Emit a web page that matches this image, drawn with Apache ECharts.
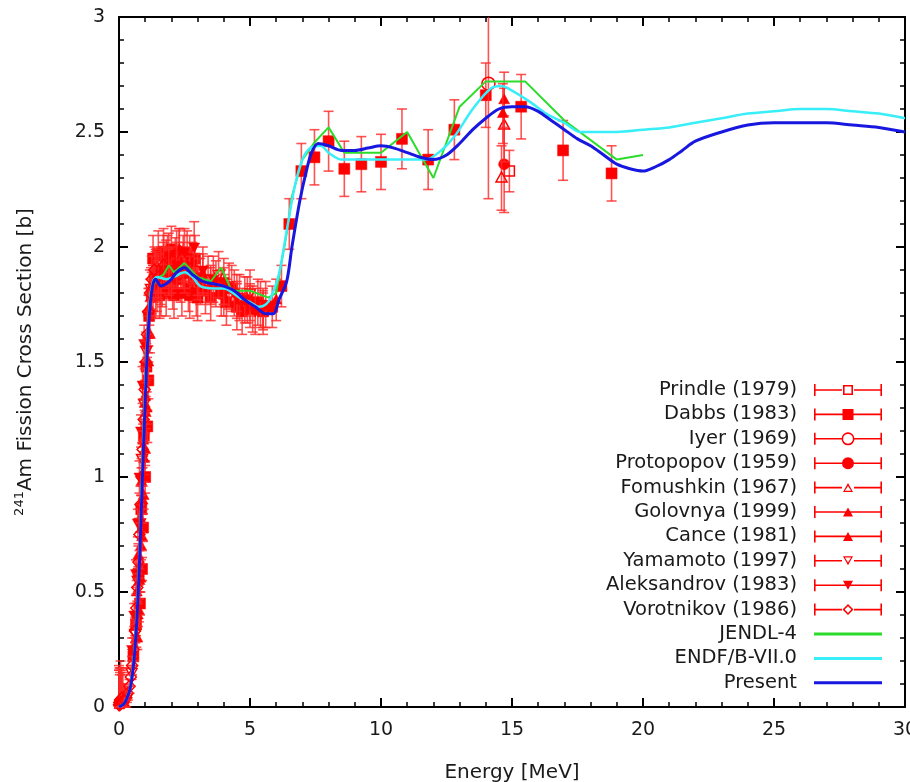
<!DOCTYPE html>
<html>
<head>
<meta charset="utf-8">
<script src="https://cdn.jsdelivr.net/npm/echarts@6/dist/echarts.min.js"></script>
<style>
  html, body { margin: 0; padding: 0; background: #fff; }
  #main { width: 910px; height: 782px; }
</style>
</head>
<body>
<div id="main"></div>
<script>
// 数据: [能量 MeV, 截面 b, 误差 b]
var prindle = [[14.9, 2.33, 0.09]];
var dabbs = [
  [0.55,0.22,0.04],[0.65,0.36,0.05],[0.75,0.58,0.05],[0.80,0.45,0.05],[0.85,0.86,0.06],
  [0.88,0.60,0.05],[0.92,0.78,0.06],[0.95,1.18,0.07],[1.00,1.00,0.07],[1.05,1.48,0.08],
  [1.08,1.22,0.07],[1.12,1.42,0.08],[1.15,1.70,0.09],[1.25,1.80,0.09],[1.30,1.95,0.10],
  [1.35,1.86,0.10],[1.40,1.79,0.10],[1.45,1.82,0.10],[1.50,1.97,0.10],[1.55,1.79,0.10],
  [1.60,1.80,0.10],[1.65,1.84,0.10],[1.70,1.98,0.10],[1.75,1.90,0.10],[1.80,1.80,0.10],
  [1.85,1.95,0.10],[1.95,1.88,0.10],[2.00,1.99,0.10],[2.05,1.83,0.10],[2.10,1.79,0.10],
  [2.15,1.94,0.10],[2.25,1.90,0.10],[2.30,1.98,0.10],[2.35,1.86,0.10],[2.40,1.80,0.10],
  [2.45,1.95,0.10],[2.55,1.90,0.10],[2.60,1.97,0.10],[2.65,1.82,0.10],[2.70,1.79,0.10],
  [2.75,1.89,0.10],[2.85,1.86,0.10],[2.90,1.95,0.10],[2.95,1.80,0.10],[3.00,1.78,0.10],
  [3.10,1.85,0.10],[3.30,1.81,0.10],[3.50,1.78,0.10],[3.70,1.84,0.10],[3.90,1.80,0.10],
  [4.10,1.76,0.10],[4.30,1.82,0.10],[4.50,1.74,0.10],[4.70,1.72,0.10],[4.90,1.77,0.10],
  [5.10,1.73,0.10],[5.30,1.76,0.10],[5.50,1.72,0.10],[5.85,1.74,0.09],[6.20,1.83,0.09],
  [6.50,2.10,0.11],[6.96,2.33,0.12],[7.46,2.39,0.12],[8.00,2.46,0.13],[8.60,2.34,0.12],
  [9.25,2.36,0.12],[10.0,2.37,0.12],[10.8,2.47,0.13],[11.8,2.38,0.13],[12.8,2.51,0.13],
  [14.0,2.66,0.14],[15.35,2.61,0.14],[16.95,2.42,0.13],[18.8,2.32,0.12]
];
var iyer = [[14.1, 2.71, 0.5]];
var protopopov = [[14.7, 2.36, 0.21]];
var fomushkin = [[14.6, 2.30, 0.14], [14.7, 2.53, 0.16]];
var golovnya = [
  [0.00,0.02,0.16],[0.02,0.01,0.16],[0.05,0.02,0.15],[0.10,0.02,0.14],[0.15,0.03,0.12],
  [0.20,0.02,0.08],[0.62,0.35,0.04],[0.66,0.30,0.04],[0.68,0.50,0.05],[0.72,0.40,0.05],
  [0.74,0.66,0.05],[0.78,0.55,0.05],[0.80,0.82,0.06],[0.84,0.70,0.06],[0.86,0.98,0.06],
  [0.90,0.90,0.06],[0.92,1.16,0.07],[0.96,1.08,0.07],[0.98,1.32,0.07],[1.02,1.28,0.07],
  [1.04,1.50,0.08],[1.10,1.62,0.08],[1.16,1.74,0.08],[1.30,1.84,0.08],[1.60,1.88,0.08],
  [2.0,1.91,0.08],[2.5,1.90,0.08],[3.0,1.87,0.08],[3.5,1.84,0.08],[4.0,1.83,0.08],
  [4.5,1.80,0.08],[5.0,1.76,0.08],[5.5,1.73,0.08],[14.7,2.64,0.12]
];
var cance = [
  [0.70,0.30,0.05],[0.76,0.42,0.05],[0.82,0.56,0.06],[0.88,0.74,0.06],[0.94,0.92,0.06],
  [1.0,1.12,0.07],[1.06,1.30,0.07],[1.12,1.50,0.07],[1.18,1.62,0.08],
  [1.0,1.35,0.07],[1.2,1.78,0.08],[1.4,1.90,0.09],[1.5,1.86,0.08],[1.7,1.96,0.09],
  [2.0,1.86,0.09],[2.3,1.99,0.09],[2.5,1.88,0.08],[2.8,1.93,0.09],[3.2,1.88,0.09],
  [3.5,1.83,0.08],[4.0,1.79,0.09],[4.5,1.77,0.08],[5.0,1.74,0.09],[5.5,1.72,0.08],
  [6.0,1.77,0.09],[14.65,2.58,0.13]
];
var yamamoto = [
  [0.30,0.04,0.02],[0.48,0.15,0.03],[0.62,0.32,0.04],[0.72,0.55,0.05],[0.80,0.80,0.06],
  [0.88,1.08,0.07],[0.96,1.32,0.08],[1.04,1.55,0.08],[1.12,1.70,0.09],[1.22,1.82,0.09],
  [1.40,1.88,0.10],[1.60,1.85,0.10],[1.80,1.93,0.10],[2.00,1.90,0.10],[2.20,1.97,0.10],
  [2.45,1.92,0.10],[2.70,1.95,0.10],[3.00,1.87,0.10],[3.40,1.86,0.10],[3.80,1.88,0.10],
  [4.20,1.83,0.10],[4.60,1.78,0.10],[5.00,1.80,0.10],[5.40,1.75,0.10]
];
var aleksandrov = [
  [0.50,0.25,0.05],[0.58,0.40,0.05],[0.65,0.58,0.06],[0.72,0.80,0.06],[0.78,1.00,0.07],
  [0.84,1.20,0.07],[0.90,1.40,0.08],[0.96,1.58,0.08],
  [1.3,1.82,0.10],[1.6,1.90,0.10],[1.9,1.96,0.10],[2.2,1.92,0.10],[2.5,1.98,0.10],
  [2.87,2.00,0.11],[3.2,1.90,0.10],[3.6,1.86,0.10],[4.0,1.85,0.10],[4.4,1.80,0.10],
  [4.8,1.77,0.10],[5.2,1.72,0.10],[5.6,1.75,0.10]
];
var vorotnikov = [
  [0.00,0.01,0.15],[0.01,0.02,0.14],[0.03,0.01,0.13],[0.04,0.03,0.12],[0.06,0.03,0.17],
  [0.08,0.02,0.15],[0.12,0.04,0.10],[0.16,0.02,0.08],[0.22,0.03,0.05],[0.28,0.04,0.04],
  [0.34,0.06,0.03],[0.40,0.09,0.03],[0.45,0.13,0.04],[0.50,0.18,0.04],[0.56,0.25,0.05],
  [0.61,0.33,0.05],[0.66,0.43,0.06],[0.70,0.52,0.06],[0.74,0.63,0.07],[0.78,0.75,0.07],
  [0.82,0.88,0.08],[0.86,1.00,0.08],[0.90,1.12,0.08],[0.94,1.25,0.09],[0.98,1.38,0.09],
  [1.02,1.50,0.09],[1.07,1.62,0.10],[1.12,1.72,0.10],[1.18,1.80,0.10],[1.25,1.86,0.10],
  [1.35,1.90,0.10],[1.50,1.87,0.10],[1.70,1.92,0.10],[1.90,1.89,0.10]
];

// 评价曲线: [能量 MeV, 截面 b]
var jendl4 = [
  [0,0],[0.2,0.015],[0.4,0.07],[0.5,0.14],[0.6,0.26],[0.7,0.45],[0.8,0.72],[0.9,1.08],
  [1.0,1.40],[1.1,1.65],[1.2,1.80],[1.4,1.86],[1.7,1.88],[1.9,1.92],[2.1,1.89],[2.5,1.93],
  [3.0,1.87],[3.5,1.85],[3.9,1.91],[4.3,1.81],[5.0,1.81],[5.7,1.78],[6.0,1.80],[6.2,1.93],
  [6.4,2.06],[6.6,2.22],[7.0,2.38],[7.5,2.46],[8.0,2.52],[8.6,2.41],[10.0,2.41],[11.0,2.50],
  [12.0,2.30],[13.0,2.61],[14.0,2.72],[15.5,2.72],[17.0,2.55],[19.0,2.38],[20.0,2.40]
];
var endfb7 = [
  [0,0],[0.2,0.015],[0.4,0.07],[0.5,0.14],[0.6,0.25],[0.7,0.44],[0.8,0.71],[0.9,1.06],
  [1.0,1.38],[1.1,1.63],[1.2,1.78],[1.3,1.85],[1.45,1.87],[1.8,1.86],[2.1,1.87],[2.5,1.89],
  [2.8,1.87],[3.1,1.83],[3.6,1.82],[4.0,1.82],[4.6,1.78],[5.0,1.76],[5.35,1.74],[5.6,1.75],
  [5.8,1.78],[6.1,1.88],[6.4,2.07],[6.7,2.26],[7.0,2.38],[7.3,2.43],[7.7,2.44],[8.0,2.41],
  [8.5,2.38],[9.5,2.38],[10.5,2.38],[11.7,2.38],[12.3,2.42],[12.8,2.48],[13.5,2.60],
  [14.2,2.69],[14.6,2.70],[15.0,2.68],[15.7,2.63],[16.3,2.58],[17.0,2.54],[17.6,2.50],
  [18.0,2.50],[19.0,2.50],[20.0,2.51],[21.0,2.52],[22.0,2.54],[23.0,2.56],[24.0,2.58],
  [25.0,2.59],[26.0,2.60],[27.0,2.60],[28.0,2.59],[29.0,2.58],[30.0,2.56]
];
var present = [
  [0,0],[0.2,0.015],[0.4,0.07],[0.5,0.13],[0.6,0.24],[0.7,0.42],[0.8,0.68],[0.9,1.02],
  [1.0,1.33],[1.1,1.60],[1.2,1.76],[1.3,1.84],[1.4,1.86],[1.6,1.83],[1.8,1.84],[2.0,1.86],
  [2.2,1.89],[2.5,1.91],[2.8,1.88],[3.2,1.85],[3.6,1.84],[4.0,1.83],[4.4,1.81],[4.8,1.77],
  [5.2,1.74],[5.6,1.71],[5.9,1.71],[6.1,1.77],[6.4,1.85],[6.6,2.00],[6.9,2.20],[7.15,2.33],
  [7.35,2.41],[7.6,2.45],[8.0,2.44],[8.5,2.42],[9.0,2.42],[9.5,2.43],[10.0,2.44],[10.5,2.43],
  [11.0,2.41],[11.5,2.39],[12.0,2.38],[12.5,2.40],[13.0,2.45],[13.5,2.51],[14.0,2.56],
  [14.5,2.60],[15.0,2.61],[15.5,2.61],[16.0,2.59],[16.5,2.55],[17.0,2.51],[17.5,2.47],
  [18.0,2.44],[18.5,2.40],[19.0,2.36],[19.5,2.34],[20.0,2.33],[20.5,2.35],[21.0,2.38],
  [21.5,2.42],[22.0,2.46],[23.0,2.50],[24.0,2.53],[25.0,2.54],[26.0,2.54],[27.0,2.54],
  [28.0,2.53],[29.0,2.52],[30.0,2.50]
];

var xTicks = [0, 30, 5];   // min, max, interval
var yTicks = [0, 3, 0.5];

var RED = '#ff0000';
var BAR = 'rgba(255,40,40,0.8)';
var FONT = 'DejaVu Sans';
var TXT = '#1a1a1a';

// 图例图标 (误差棒 + 标记)
var LINE = 'M0,5.2 H68 V6.8 H0 Z ';
var LINE_BROKEN = 'M0,5.2 H28 V6.8 H0 Z M40,5.2 H68 V6.8 H40 Z ';
var CAPS = 'M0,0 H1.6 V12 H0 Z M66.4,0 H68 V12 H66.4 Z ';
var icons = {
  squareOpen: 'path://' + CAPS + LINE_BROKEN + 'M29,1 H39 V11 H29 Z M30.6,2.6 V9.4 H37.4 V2.6 Z',
  square: 'path://' + CAPS + LINE + 'M28.5,0.5 H39.5 V11.5 H28.5 Z',
  circleOpen: 'path://' + CAPS + LINE_BROKEN + 'M27.5,6 A6.5,6.5 0 1,1 40.5,6 A6.5,6.5 0 1,1 27.5,6 Z M29.1,6 A4.9,4.9 0 1,0 38.9,6 A4.9,4.9 0 1,0 29.1,6 Z',
  circle: 'path://' + CAPS + LINE + 'M28,6 A6,6 0 1,1 40,6 A6,6 0 1,1 28,6 Z',
  triOpen: 'path://' + CAPS + LINE_BROKEN + 'M34,1.5 L39,10.5 L29,10.5 Z M34,4.4 L30.9,9.2 L37.1,9.2 Z',
  tri: 'path://' + CAPS + LINE + 'M34,1.5 L39,10.5 L29,10.5 Z',
  triDownOpen: 'path://' + CAPS + LINE_BROKEN + 'M29,1.5 L39,1.5 L34,10.5 Z M30.9,2.8 L34,7.8 L37.1,2.8 Z',
  triDown: 'path://' + CAPS + LINE + 'M29,1.5 L39,1.5 L34,10.5 Z',
  diamondOpen: 'path://' + CAPS + LINE_BROKEN + 'M34,0.5 L39.5,6 L34,11.5 L28.5,6 Z M34,2.7 L30.7,6 L34,9.3 L37.3,6 Z',
  line: 'path://M0,0 H68 V3 H0 Z'
};

function markerEl(kind, cx, cy) {
  var fillS = { fill: RED, stroke: RED, lineWidth: 0.5 };
  var openS = { fill: 'none', stroke: RED, lineWidth: 1.5 };
  switch (kind) {
    case 'square': return { type: 'rect', shape: { x: cx - 5.5, y: cy - 5.5, width: 11, height: 11 }, style: fillS };
    case 'squareOpen': return { type: 'rect', shape: { x: cx - 5, y: cy - 5, width: 10, height: 10 }, style: openS };
    case 'circle': return { type: 'circle', shape: { cx: cx, cy: cy, r: 5.5 }, style: fillS };
    case 'circleOpen': return { type: 'circle', shape: { cx: cx, cy: cy, r: 6.5 }, style: openS };
    case 'tri': return { type: 'polygon', shape: { points: [[cx, cy - 6], [cx + 5.5, cy + 4], [cx - 5.5, cy + 4]] }, style: fillS };
    case 'triOpen': return { type: 'polygon', shape: { points: [[cx, cy - 6], [cx + 5.5, cy + 4], [cx - 5.5, cy + 4]] }, style: openS };
    case 'triDown': return { type: 'polygon', shape: { points: [[cx, cy + 6], [cx + 5.5, cy - 4], [cx - 5.5, cy - 4]] }, style: fillS };
    case 'triDownOpen': return { type: 'polygon', shape: { points: [[cx, cy + 6], [cx + 5.5, cy - 4], [cx - 5.5, cy - 4]] }, style: openS };
    default: return { type: 'polygon', shape: { points: [[cx, cy - 6], [cx + 5.5, cy], [cx, cy + 6], [cx - 5.5, cy]] }, style: openS };
  }
}

function errorBars(kind) {
  return function (params, api) {
    var x = api.value(0), y = api.value(1), e = api.value(2);
    var c = api.coord([x, y]);
    var hi = api.coord([x, Math.min(y + e, yTicks[1])]);
    var lo = api.coord([x, Math.max(y - e, yTicks[0])]);
    var cap = 5;
    var bs = { stroke: BAR, lineWidth: 1.6 };
    var kids = [
      { type: 'line', shape: { x1: c[0], y1: hi[1], x2: c[0], y2: lo[1] }, style: bs },
      { type: 'line', shape: { x1: c[0] - cap, y1: lo[1], x2: c[0] + cap, y2: lo[1] }, style: bs },
      markerEl(kind, c[0], c[1])
    ];
    if (y + e <= yTicks[1]) {
      kids.push({ type: 'line', shape: { x1: c[0] - cap, y1: hi[1], x2: c[0] + cap, y2: hi[1] }, style: bs });
    }
    return { type: 'group', children: kids };
  };
}

var expSets = [
  { name: 'Prindle (1979)', data: prindle, kind: 'squareOpen' },
  { name: 'Dabbs (1983)', data: dabbs, kind: 'square' },
  { name: 'Iyer (1969)', data: iyer, kind: 'circleOpen' },
  { name: 'Protopopov (1959)', data: protopopov, kind: 'circle' },
  { name: 'Fomushkin (1967)', data: fomushkin, kind: 'triOpen' },
  { name: 'Golovnya (1999)', data: golovnya, kind: 'tri' },
  { name: 'Cance (1981)', data: cance, kind: 'tri' },
  { name: 'Yamamoto (1997)', data: yamamoto, kind: 'triDownOpen' },
  { name: 'Aleksandrov (1983)', data: aleksandrov, kind: 'triDown' },
  { name: 'Vorotnikov (1986)', data: vorotnikov, kind: 'diamondOpen' }
];

var series = [];
var legendData = [];
expSets.forEach(function (s) {
  series.push({
    name: s.name,
    type: 'custom',
    renderItem: errorBars(s.kind),
    data: s.data,
    encode: { x: 0, y: 1 },
    itemStyle: { color: RED },
    z: 2,
    silent: true
  });
  legendData.push({ name: s.name, icon: icons[s.kind] });
});

var curves = [
  { name: 'JENDL-4', data: jendl4, color: '#2bdc2b', width: 2, smooth: false },
  { name: 'ENDF/B-VII.0', data: endfb7, color: '#38eef8', width: 2.5, smooth: 0.3 },
  { name: 'Present', data: present, color: '#1717e0', width: 3, smooth: 0.3 }
];
curves.forEach(function (c, i) {
  series.push({
    name: c.name,
    type: 'line',
    data: c.data,
    showSymbol: false,
    symbol: 'none',
    smooth: c.smooth,
    lineStyle: { color: c.color, width: c.width },
    itemStyle: { color: c.color },
    z: 3 + i,
    silent: true
  });
  legendData.push({ name: c.name, icon: icons.line });
});

function axisBase(pos, isX, show) {
  var t = isX ? xTicks : yTicks;
  return {
    type: 'value',
    position: pos,
    min: t[0], max: t[1], interval: t[2],
    axisLine: { show: true, onZero: false, lineStyle: { color: '#000', width: 2 } },
    axisTick: { show: true, inside: true, length: 9, lineStyle: { color: '#000', width: 2 } },
    minorTick: { show: true, splitNumber: 5, length: 5, lineStyle: { color: '#000', width: 1.5 } },
    splitLine: { show: false },
    axisLabel: {
      show: show, color: TXT, fontSize: 19, fontFamily: FONT, margin: 14,
      showMaxLabel: true, showMinLabel: true
    }
  };
}

var xBottom = axisBase('bottom', true, true);
xBottom.name = 'Energy [MeV]';
xBottom.nameLocation = 'middle';
xBottom.nameGap = 56;
xBottom.nameTextStyle = { color: TXT, fontSize: 20, fontFamily: FONT };

var yLeft = axisBase('left', false, true);
yLeft.axisLabel.margin = 14;
yLeft.name = '{s|241}{m|Am Fission Cross Section [b]}';
yLeft.nameLocation = 'middle';
yLeft.nameGap = 80;
yLeft.nameTextStyle = {
  color: TXT, fontFamily: FONT,
  rich: {
    s: { fontSize: 13, fontFamily: FONT, color: TXT, verticalAlign: 'top', lineHeight: 26 },
    m: { fontSize: 20, fontFamily: FONT, color: TXT, lineHeight: 26 }
  }
};

var myChart = echarts.init(document.getElementById('main'), null, { renderer: 'canvas' });

var option = {
  backgroundColor: '#fff',
  animation: false,
  grid: { left: 119, right: 5, top: 17, bottom: 75, containLabel: false, outerBoundsMode: 'none' },
  legend: {
    orient: 'vertical',
    right: 28,
    top: 380,
    padding: 0,
    align: 'right',
    itemWidth: 68,
    itemHeight: 14,
    itemGap: 4.4,
    selectedMode: false,
    itemStyle: { borderWidth: 0 },
    textStyle: { fontSize: 19.5, fontFamily: FONT, color: TXT, lineHeight: 20, padding: [0, 12, 0, 0] },
    data: legendData
  },
  xAxis: [xBottom, axisBase('top', true, false)],
  yAxis: [yLeft, axisBase('right', false, false)],
  series: series
};

myChart.setOption(option);
</script>
</body>
</html>
